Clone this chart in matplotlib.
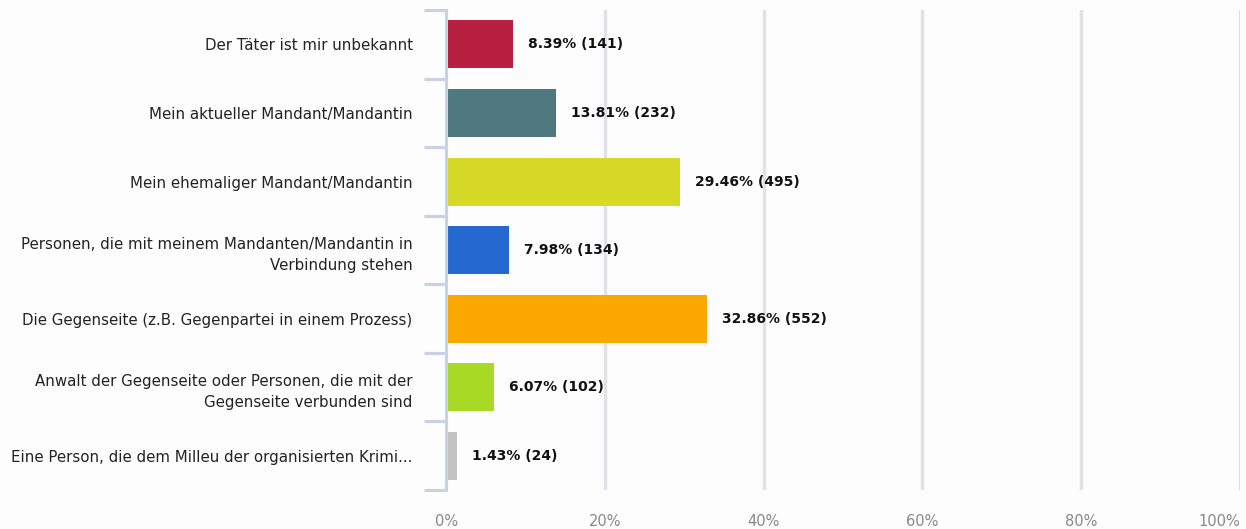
import matplotlib.pyplot as plt

categories = [
    "Der Täter ist mir unbekannt",
    "Mein aktueller Mandant/Mandantin",
    "Mein ehemaliger Mandant/Mandantin",
    "Personen, die mit meinem Mandanten/Mandantin in\nVerbindung stehen",
    "Die Gegenseite (z.B. Gegenpartei in einem Prozess)",
    "Anwalt der Gegenseite oder Personen, die mit der\nGegenseite verbunden sind",
    "Eine Person, die dem Milleu der organisierten Krimi...",
]
percents = [8.39, 13.81, 29.46, 7.98, 32.86, 6.07, 1.43]
counts = [141, 232, 495, 134, 552, 102, 24]
colors = ["#b71f40", "#4f797e", "#d7d927", "#2569d0", "#fba800", "#a7d925", "#c4c4c4"]
xticks = [0, 20, 40, 60, 80, 100]

fig = plt.figure(figsize=(12.46, 5.29), dpi=100)
fig.patch.set_facecolor("#fdfdfd")
ax = fig.add_axes([0.358, 0.0737, 0.637, 0.907])
ax.set_facecolor("#fdfdfd")

n = len(categories)
ypos = list(range(n))
ax.barh(ypos, percents, height=0.7, color=colors, zorder=3)

for y, p, c in zip(ypos, percents, counts):
    ax.text(p + 1.9, y, f"{p:.2f}% ({c})", va="center", ha="left",
            fontsize=10, fontweight="bold", color="#111111", zorder=4)

ax.set_xlim(0, 100)
ax.set_ylim(n - 0.5, -0.5)

ax.set_xticks(xticks)
ax.set_xticklabels([f"{t}%" for t in xticks])
ax.tick_params(axis="x", length=0, pad=17, labelsize=10.5, labelcolor="#888888")
ax.get_xticklabels()[-1].set_horizontalalignment("right")

ax.set_yticks(ypos)
ax.set_yticklabels(categories, fontsize=10.8, color="#222222", linespacing=1.55)
ax.tick_params(axis="y", which="major", length=0, pad=24)
ax.set_yticks([i - 0.5 for i in range(n + 1)], minor=True)
ax.tick_params(axis="y", which="minor", length=16, width=2.2, color="#c9d1e7")

ax.grid(axis="x", color="#e1e1e6", linewidth=2.5, zorder=0)
ax.xaxis.get_gridlines()[0].set_visible(False)

for s in ["top", "right", "bottom"]:
    ax.spines[s].set_visible(False)
ax.spines["left"].set_color("#c9d1e7")
ax.spines["left"].set_linewidth(2.2)
ax.spines["left"].set_zorder(5)

fig.savefig("out.png", dpi=100, facecolor=fig.get_facecolor())
